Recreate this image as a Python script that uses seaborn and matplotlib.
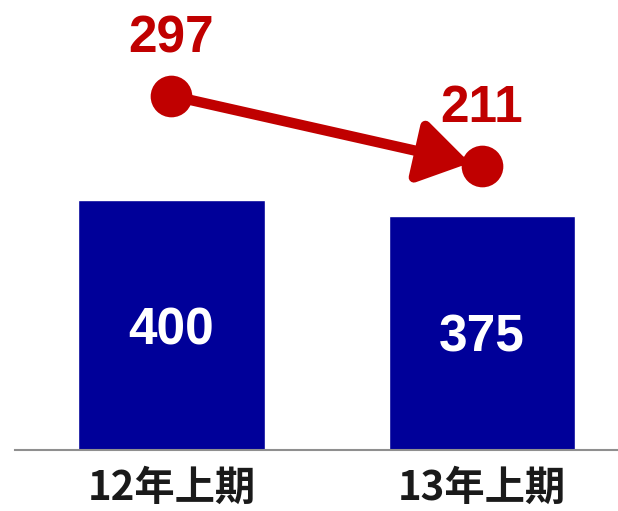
import numpy as np
import pandas as pd
import seaborn as sns
import matplotlib.pyplot as plt

# chart data
periods = ['12年上期', '13年上期']
bar_values = [400, 375]
line_values = [297, 211]

BLUE = '#000099'
RED = '#C00000'

sns.set_style('white')
plt.rcParams['font.family'] = ['Liberation Sans', 'Noto Sans CJK JP', 'DejaVu Sans']

fig = plt.figure(figsize=(6.18, 5.11), dpi=100)
ax = fig.add_axes([15 / 618, 1 - 450 / 511, 603 / 618, 450 / 511])

df = pd.DataFrame({'period': periods, 'value': bar_values})
sns.barplot(data=df, x='period', y='value', color=BLUE, saturation=1,
            width=0.6, ax=ax)
labels = ax.bar_label(ax.containers[0], label_type='center', color='white',
                      fontsize=37, fontweight='bold')
for t in labels:
    t.set_va('center_baseline')

ax.set_xlim(-0.504, 1.438)
ax.set_ylim(0, 720)
ax.set_xlabel('')
ax.set_ylabel('')
ax.set_yticks([])
for s in ['top', 'left', 'right']:
    ax.spines[s].set_visible(False)
ax.spines['bottom'].set_color('#8f8f8f')
ax.spines['bottom'].set_linewidth(1.5)
ax.tick_params(axis='x', length=0, pad=13)
for lbl in ax.get_xticklabels():
    lbl.set_fontsize(29)
    lbl.set_fontweight('bold')
    lbl.set_color('#1a1a1a')
    lbl.set_family(['Noto Sans CJK JP', 'DejaVu Sans'])

# secondary axis for the red line
ax2 = ax.twinx()
xpos = np.arange(len(periods))
ax2.annotate('', xy=(xpos[1], line_values[1]), xytext=(xpos[0], line_values[0]),
             arrowprops=dict(arrowstyle='-|>,head_length=3.0,head_width=1.9',
                             lw=7.5, color=RED, shrinkA=0, shrinkB=9,
                             mutation_scale=10))
sns.scatterplot(x=xpos, y=line_values, s=900, color=RED, edgecolor=RED,
                linewidth=0, ax=ax2, zorder=5)
for x, v in zip(xpos, line_values):
    ax2.annotate(str(v), xy=(x, v), xytext=(0, 45), textcoords='offset points',
                 ha='center', va='center_baseline', fontsize=37,
                 fontweight='bold', color=RED)

ax2.set_xlim(-0.504, 1.438)
ax2.set_ylim(-138.3, 414.6)
ax2.set_yticks([])
ax2.set_ylabel('')
for s in ['top', 'left', 'right', 'bottom']:
    ax2.spines[s].set_visible(False)

fig.savefig('out.png', dpi=100)
